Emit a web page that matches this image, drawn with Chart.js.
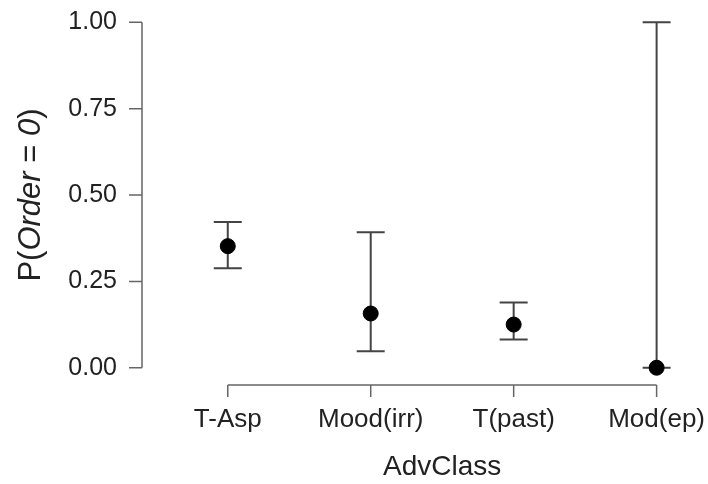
<!DOCTYPE html>
<html>
<head>
<meta charset="utf-8">
<script src="https://cdn.jsdelivr.net/npm/chart.js@4/dist/chart.umd.min.js"></script>
<style>
  html, body { margin: 0; padding: 0; background: #fff; }
  #wrap { width: 708px; height: 484px; }
</style>
</head>
<body>
<div id="wrap"><canvas id="myChart" width="708" height="484"></canvas></div>
<script>
'use strict';

let categories = ['T-Asp', 'Mood(irr)', 'T(past)', 'Mod(ep)'];
let estimates = [0.352, 0.157, 0.125, 0.0];
let lowerVals = [0.288, 0.048, 0.082, 0.0];
let upperVals = [0.422, 0.392, 0.189, 1.0];
let yTicks = [0, 0.25, 0.5, 0.75, 1];

let textColor = '#222';
let axisColor = '#666';
let barColor = '#444';
let fontFamily = '"Liberation Sans", Arial, sans-serif';

// error bars, axis lines and axis titles (R style)
const rStyle = {
    id: 'rStyle',
    beforeDatasetsDraw(chart) {
        let ctx = chart.ctx;
        let xs = chart.scales.x;
        let ys = chart.scales.y;
        ctx.save();
        ctx.strokeStyle = barColor;
        ctx.lineWidth = 2;
        for (let i = 0; i < categories.length; i++) {
            let px = xs.getPixelForValue(i);
            let top = ys.getPixelForValue(upperVals[i]);
            let bot = ys.getPixelForValue(lowerVals[i]);
            ctx.beginPath();
            ctx.moveTo(px, top);
            ctx.lineTo(px, bot);
            ctx.moveTo(px - 14, top);
            ctx.lineTo(px + 14, top);
            ctx.moveTo(px - 14, bot);
            ctx.lineTo(px + 14, bot);
            ctx.stroke();
        }
        ctx.restore();
    },
    afterDraw(chart) {
        let ctx = chart.ctx;
        let xs = chart.scales.x;
        let ys = chart.scales.y;
        let area = chart.chartArea;
        ctx.save();
        ctx.strokeStyle = axisColor;
        ctx.lineWidth = 1.5;

        // y axis
        let ax = area.left;
        ctx.beginPath();
        ctx.moveTo(ax, ys.getPixelForValue(yTicks[0]));
        ctx.lineTo(ax, ys.getPixelForValue(yTicks[yTicks.length - 1]));
        for (let t of yTicks) {
            let py = ys.getPixelForValue(t);
            ctx.moveTo(ax - 13, py);
            ctx.lineTo(ax, py);
        }
        ctx.stroke();

        // x axis
        let ay = area.bottom;
        ctx.beginPath();
        ctx.moveTo(xs.getPixelForValue(0), ay);
        ctx.lineTo(xs.getPixelForValue(categories.length - 1), ay);
        for (let i = 0; i < categories.length; i++) {
            let px = xs.getPixelForValue(i);
            ctx.moveTo(px, ay);
            ctx.lineTo(px, ay + 12);
        }
        ctx.stroke();

        // x title
        ctx.fillStyle = textColor;
        ctx.font = '28px ' + fontFamily;
        ctx.textAlign = 'center';
        ctx.textBaseline = 'middle';
        let midX = (xs.getPixelForValue(0) + xs.getPixelForValue(categories.length - 1)) / 2;
        ctx.fillText('AdvClass', midX, 467);

        // y title with italic parts
        let parts = [['P(', false], ['Order', true], [' = ', false], ['0', true], [')', false]];
        let normal = '31px ' + fontFamily;
        let italic = 'italic 31px ' + fontFamily;
        let total = 0;
        for (let p of parts) {
            ctx.font = p[1] ? italic : normal;
            total += ctx.measureText(p[0]).width;
        }
        let midY = (ys.getPixelForValue(0) + ys.getPixelForValue(1)) / 2;
        ctx.translate(31, midY);
        ctx.rotate(-Math.PI / 2);
        ctx.textAlign = 'left';
        let cx = -total / 2;
        for (let p of parts) {
            ctx.font = p[1] ? italic : normal;
            ctx.fillText(p[0], cx, 0);
            cx += ctx.measureText(p[0]).width;
        }
        ctx.restore();
    }
};

let ctx = document.getElementById('myChart').getContext('2d');
let myChart = new Chart(ctx, {
    type: 'scatter',
    data: {
        datasets: [{
            label: 'P(Order = 0)',
            data: estimates.map((v, i) => ({ x: i, y: v })),
            backgroundColor: '#000',
            borderColor: '#000',
            pointRadius: 7.5,
            pointHoverRadius: 7.5
        }]
    },
    options: {
        responsive: false,
        animation: false,
        events: [],
        layout: {
            padding: { left: 0, right: 8, top: 4, bottom: 0 }
        },
        plugins: {
            legend: { display: false },
            tooltip: { enabled: false }
        },
        scales: {
            x: {
                type: 'linear',
                min: -0.6,
                max: 3.3,
                grid: { display: false, drawTicks: false },
                border: { display: false },
                afterBuildTicks(scale) {
                    scale.ticks = categories.map((c, i) => ({ value: i }));
                },
                afterFit(scale) {
                    scale.height = 99;
                    scale.paddingLeft = 0;
                    scale.paddingRight = 0;
                },
                ticks: {
                    autoSkip: false,
                    maxRotation: 0,
                    padding: 19,
                    color: textColor,
                    font: { family: fontFamily, size: 26 },
                    callback: (v) => categories[v]
                }
            },
            y: {
                min: -0.05,
                max: 1.04,
                grid: { display: false, drawTicks: false },
                border: { display: false },
                afterBuildTicks(scale) {
                    scale.ticks = yTicks.map(v => ({ value: v }));
                },
                afterFit(scale) {
                    scale.width = 142;
                    scale.paddingTop = 0;
                    scale.paddingBottom = 0;
                },
                ticks: {
                    padding: 25,
                    color: textColor,
                    font: { family: fontFamily, size: 25 },
                    callback: (v) => v.toFixed(2)
                }
            }
        }
    },
    plugins: [rStyle]
});
</script>
</body>
</html>
